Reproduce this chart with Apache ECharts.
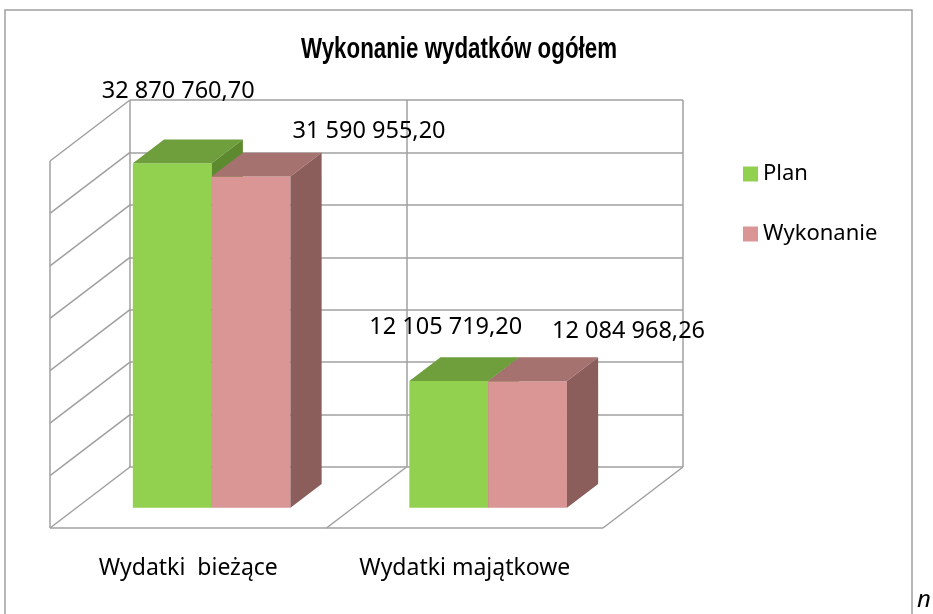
<!DOCTYPE html>
<html>
<head>
<meta charset="utf-8">
<script src="https://cdn.jsdelivr.net/npm/echarts@6/dist/echarts.min.js"></script>
<style>
  html, body { margin: 0; padding: 0; background: #fff; }
  #chart { width: 933px; height: 614px; }
</style>
</head>
<body>
<div id="chart"></div>
<script>
// dane wykresu
const chartTitle = 'Wykonanie wydatków ogółem';
const categories = ['Wydatki  bieżące', 'Wydatki majątkowe'];
const seriesNames = ['Plan', 'Wykonanie'];
const planValues = [32870760.70, 12105719.20];
const wykonanieValues = [31590955.20, 12084968.26];
const yMin = 0, yMax = 35000000, yStep = 5000000;

// wygląd 3D
const DX = -80, DY = 61;          // głębokość podłogi
const FRONT = 0.67, BACK = 0.28;  // położenie słupków w głębi
const gridColor = '#a0a0a0';
const faceColors = [
    { front: '#92d050', top: '#6f9e3c', side: '#5e8a2f' },
    { front: '#d99694', top: '#a57270', side: '#8b5d5b' }
];
// przesunięcie etykiet względem środka słupka (styl)
const labelShift = [
    [[6, -72], [118, -45]],
    [[-3, -54], [101, -50]]
];

function fmt(v) {
    let parts = v.toFixed(2).split('.');
    return parts[0].replace(/\B(?=(\d{3})+(?!\d))/g, ' ') + ',' + parts[1];
}

let chart = echarts.init(document.getElementById('chart'));

let yTicks = [];
for (let v = yMin; v <= yMax; v += yStep) yTicks.push(v);

// ściana boczna i podłoga
function renderFrame(params, api) {
    let b = api.size([1, 0])[0];
    let xl = api.coord([0, 0])[0] - b / 2;
    let xr = xl + b * categories.length;
    let yb = api.coord([0, yMin])[1];
    let yt = api.coord([0, yMax])[1];
    let st = { stroke: gridColor, lineWidth: 1.5, fill: null };
    let kids = [];
    yTicks.forEach(function (v) {
        let y = api.coord([0, v])[1];
        kids.push({ type: 'line', shape: { x1: xl, y1: y, x2: xl + DX, y2: y + DY }, style: st });
    });
    kids.push({ type: 'line', shape: { x1: xl + DX, y1: yt + DY, x2: xl + DX, y2: yb + DY }, style: st });
    kids.push({ type: 'line', shape: { x1: xl + DX, y1: yb + DY, x2: xr + DX, y2: yb + DY }, style: st });
    for (let i = 1; i <= categories.length; i++) {
        let x = xl + b * i;
        kids.push({ type: 'line', shape: { x1: x, y1: yb, x2: x + DX, y2: yb + DY }, style: st });
    }
    return { type: 'group', children: kids };
}

// słupek 3D
function makeBar(si) {
    return function (params, api) {
        let idx = api.value(0), val = api.value(1);
        let c = api.coord([idx, val]);
        let c0 = api.coord([idx, 0]);
        let w = api.size([1, 0])[0] * 0.285;
        let x0 = c[0] - 3 + (si === 0 ? -w : 0);
        let fx = DX * FRONT, fy = DY * FRONT, bx = DX * BACK, by = DY * BACK;
        let col = faceColors[si];
        let sh = labelShift[idx][si];
        return {
            type: 'group',
            children: [
                { type: 'rect', shape: { x: x0 + fx, y: c[1] + fy, width: w, height: c0[1] - c[1] },
                  style: { fill: col.front } },
                { type: 'polygon', shape: { points: [[x0 + fx, c[1] + fy], [x0 + w + fx, c[1] + fy],
                      [x0 + w + bx, c[1] + by], [x0 + bx, c[1] + by]] }, style: { fill: col.top } },
                { type: 'polygon', shape: { points: [[x0 + w + fx, c[1] + fy], [x0 + w + bx, c[1] + by],
                      [x0 + w + bx, c0[1] + by], [x0 + w + fx, c0[1] + fy]] }, style: { fill: col.side } },
                { type: 'text', x: x0 + w / 2 + fx + sh[0], y: c[1] + fy + sh[1],
                  style: { text: fmt(val), fill: '#000', fontSize: 23.5, fontFamily: 'Noto Sans',
                           align: 'center', verticalAlign: 'middle' } }
            ]
        };
    };
}

let option = {
    backgroundColor: '#fff',
    animation: false,
    legend: {
        data: seriesNames,
        orient: 'vertical',
        left: 743, top: 163,
        padding: 0,
        itemWidth: 15, itemHeight: 15,
        itemGap: 38,
        icon: 'rect',
        textStyle: { fontSize: 22, color: '#000', fontFamily: 'Noto Sans' }
    },
    grid: { left: 130, top: 100, width: 553, height: 367 },
    xAxis: {
        type: 'category',
        data: categories,
        axisLine: { show: false },
        axisTick: { show: false },
        splitLine: { show: true, interval: 0, lineStyle: { color: gridColor, width: 1.5 } },
        axisLabel: { margin: 90, fontSize: 23, color: '#000', fontFamily: 'Noto Sans',
                     padding: [0, 160, 0, 0], interval: 0 }
    },
    yAxis: {
        type: 'value',
        min: yMin, max: yMax, interval: yStep,
        axisLine: { show: false },
        axisTick: { show: false },
        axisLabel: { show: false },
        splitLine: { lineStyle: { color: gridColor, width: 1.5 } }
    },
    graphic: [
        { type: 'rect', shape: { x: 5, y: 10, width: 907, height: 640 },
          style: { fill: null, stroke: gridColor, lineWidth: 1.5 }, z: -1 },
        { type: 'text', x: 459, y: 50, scaleX: 0.77,
          style: { text: chartTitle, fontSize: 29, fontWeight: 'bold', fill: '#000',
                   fontFamily: '"Liberation Sans", Arial, sans-serif', align: 'center', verticalAlign: 'middle' } },
        { type: 'text', x: 917, y: 588,
          style: { text: 'n', fontSize: 24, fontStyle: 'italic', fill: '#000', fontFamily: 'Noto Sans' } }
    ],
    series: [
        { name: 'frame', type: 'custom', renderItem: renderFrame, data: [[0, 0]], silent: true, z: 1 },
        { name: seriesNames[0], type: 'custom', renderItem: makeBar(0), itemStyle: { color: faceColors[0].front },
          data: planValues.map(function (v, i) { return [i, v]; }), z: 2 },
        { name: seriesNames[1], type: 'custom', renderItem: makeBar(1), itemStyle: { color: faceColors[1].front },
          data: wykonanieValues.map(function (v, i) { return [i, v]; }), z: 3 }
    ]
};

chart.setOption(option);
</script>
</body>
</html>
